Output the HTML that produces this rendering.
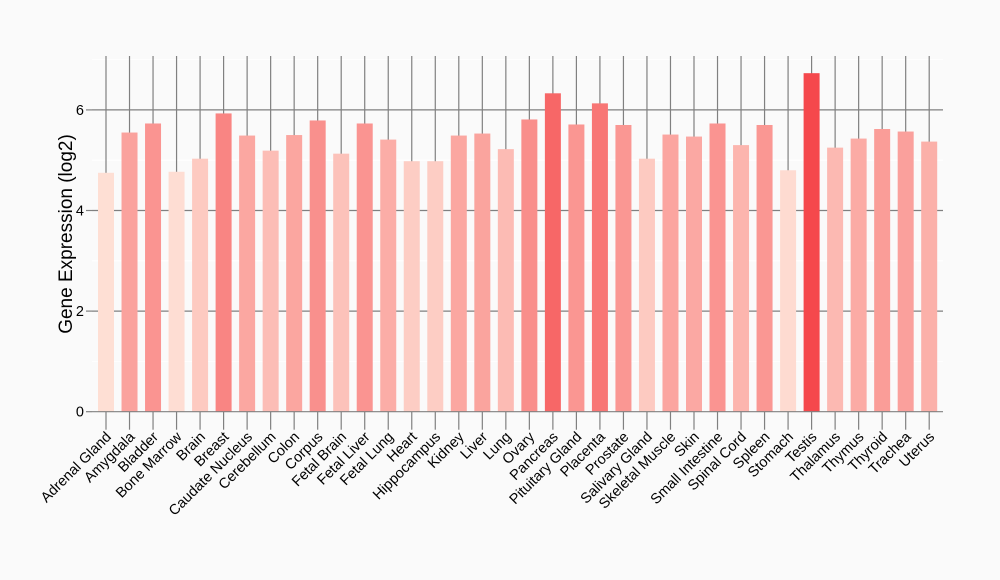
<!DOCTYPE html>
<html><head><meta charset="utf-8"><style>
html,body{margin:0;padding:0;background:#fafafa;}
svg{display:block;font-family:"Liberation Sans",sans-serif;}
</style></head><body>
<svg id="c" width="1000" height="580" xmlns="http://www.w3.org/2000/svg"></svg>
<script>
const names=["Adrenal Gland","Amygdala","Bladder","Bone Marrow","Brain","Breast","Caudate Nucleus","Cerebellum","Colon","Corpus","Fetal Brain","Fetal Liver","Fetal Lung","Heart","Hippocampus","Kidney","Liver","Lung","Ovary","Pancreas","Pituitary Gland","Placenta","Prostate","Salivary Gland","Skeletal Muscle","Skin","Small Intestine","Spinal Cord","Spleen","Stomach","Testis","Thalamus","Thymus","Thyroid","Trachea","Uterus"];
const vals=[4.75,5.55,5.73,4.77,5.03,5.93,5.49,5.19,5.5,5.79,5.13,5.73,5.41,4.98,4.98,5.49,5.53,5.22,5.81,6.33,5.71,6.13,5.7,5.03,5.51,5.47,5.73,5.3,5.7,4.8,6.73,5.25,5.43,5.62,5.57,5.37];
const y0=411.7,k=50.3,x0=106,dx=23.52,L=92,R=943,T=56;
const Y=v=>y0-v*k;
const lo=[254,223,212],hi=[245,72,76];
function col(v){let t=(v-4.75)/(6.73-4.75);t=Math.max(0,Math.min(1,t));return `rgb(${lo.map((a,i)=>Math.round(a+(hi[i]-a)*t)).join(',')})`;}
let s='';
s+=`<rect x="${L}" y="${T}" width="${R-L}" height="${y0-T}" fill="#fafafa"/>`;
[1,3,5,7].forEach(v=>s+=`<line x1="${L}" x2="${R}" y1="${Y(v)}" y2="${Y(v)}" stroke="#ffffff" stroke-width="1"/>`);
[2,4,6].forEach(v=>s+=`<line x1="${L}" x2="${R}" y1="${Y(v)}" y2="${Y(v)}" stroke="#808080" stroke-width="1.2"/>`);
names.forEach((n,i)=>{const cx=x0+i*dx;s+=`<line x1="${cx}" x2="${cx}" y1="${T}" y2="${y0}" stroke="#808080" stroke-width="1.2"/>`;});
names.forEach((n,i)=>{const cx=x0+i*dx,v=vals[i];s+=`<rect x="${cx-8}" y="${Y(v)}" width="16" height="${v*k}" fill="${col(v)}"/>`;});
s+=`<line x1="${L}" x2="${R}" y1="${y0}" y2="${y0}" stroke="#808080" stroke-width="1.2"/>`;
[0,2,4,6].forEach(v=>{s+=`<line x1="${L-6}" x2="${L}" y1="${Y(v)}" y2="${Y(v)}" stroke="#808080" stroke-width="1.2"/>`;s+=`<text x="${L-8}" y="${Y(v)+5}" font-size="14.5" text-anchor="end" fill="#000">${v}</text>`;});
names.forEach((n,i)=>{const cx=x0+i*dx;s+=`<line x1="${cx}" x2="${cx}" y1="${y0}" y2="${y0+18}" stroke="#808080" stroke-width="1.2"/>`;s+=`<text transform="translate(${cx+6},${y0+26}) rotate(-45)" font-size="14.5" text-anchor="end" fill="#000">${n}</text>`;});
s+=`<text transform="translate(72,234) rotate(-90)" font-size="19" text-anchor="middle" fill="#000">Gene Expression (log2)</text>`;
document.getElementById('c').innerHTML=s;
</script>
</body></html>
